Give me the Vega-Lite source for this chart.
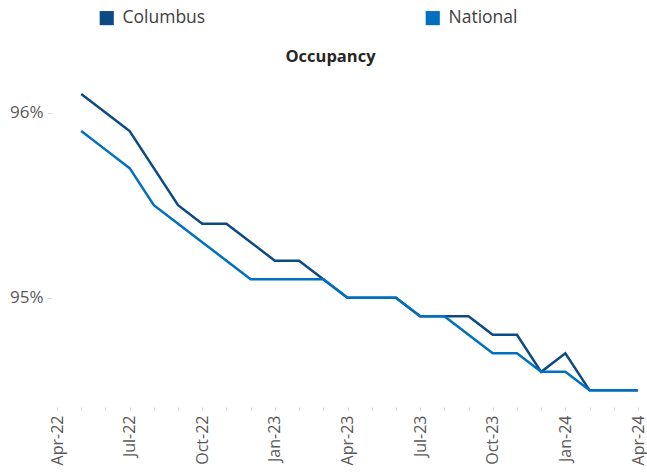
{
  "$schema": "https://vega.github.io/schema/vega-lite/v6.json",
  "width": 581,
  "height": 337,
  "autosize": {"type": "none"},
  "padding": {"left": 57, "top": 70, "right": 9, "bottom": 68},
  "background": "white",
  "title": {"text": "Occupancy", "fontSize": 16.5, "font": "Open Sans", "fontWeight": "bold", "color": "#262626", "dx": -17, "dy": 64, "offset": 8, "anchor": "middle"},
  "config": {"view": {"stroke": null}, "font": "Open Sans"},
  "data": {"values": [
    {"month": "May-22", "series": "Columbus", "occupancy": 96.1},
    {"month": "Jun-22", "series": "Columbus", "occupancy": 96.0},
    {"month": "Jul-22", "series": "Columbus", "occupancy": 95.9},
    {"month": "Aug-22", "series": "Columbus", "occupancy": 95.7},
    {"month": "Sep-22", "series": "Columbus", "occupancy": 95.5},
    {"month": "Oct-22", "series": "Columbus", "occupancy": 95.4},
    {"month": "Nov-22", "series": "Columbus", "occupancy": 95.4},
    {"month": "Dec-22", "series": "Columbus", "occupancy": 95.3},
    {"month": "Jan-23", "series": "Columbus", "occupancy": 95.2},
    {"month": "Feb-23", "series": "Columbus", "occupancy": 95.2},
    {"month": "Mar-23", "series": "Columbus", "occupancy": 95.1},
    {"month": "Apr-23", "series": "Columbus", "occupancy": 95.0},
    {"month": "May-23", "series": "Columbus", "occupancy": 95.0},
    {"month": "Jun-23", "series": "Columbus", "occupancy": 95.0},
    {"month": "Jul-23", "series": "Columbus", "occupancy": 94.9},
    {"month": "Aug-23", "series": "Columbus", "occupancy": 94.9},
    {"month": "Sep-23", "series": "Columbus", "occupancy": 94.9},
    {"month": "Oct-23", "series": "Columbus", "occupancy": 94.8},
    {"month": "Nov-23", "series": "Columbus", "occupancy": 94.8},
    {"month": "Dec-23", "series": "Columbus", "occupancy": 94.6},
    {"month": "Jan-24", "series": "Columbus", "occupancy": 94.7},
    {"month": "Feb-24", "series": "Columbus", "occupancy": 94.5},
    {"month": "Mar-24", "series": "Columbus", "occupancy": 94.5},
    {"month": "Apr-24", "series": "Columbus", "occupancy": 94.5},
    {"month": "May-22", "series": "National", "occupancy": 95.9},
    {"month": "Jun-22", "series": "National", "occupancy": 95.8},
    {"month": "Jul-22", "series": "National", "occupancy": 95.7},
    {"month": "Aug-22", "series": "National", "occupancy": 95.5},
    {"month": "Sep-22", "series": "National", "occupancy": 95.4},
    {"month": "Oct-22", "series": "National", "occupancy": 95.3},
    {"month": "Nov-22", "series": "National", "occupancy": 95.2},
    {"month": "Dec-22", "series": "National", "occupancy": 95.1},
    {"month": "Jan-23", "series": "National", "occupancy": 95.1},
    {"month": "Feb-23", "series": "National", "occupancy": 95.1},
    {"month": "Mar-23", "series": "National", "occupancy": 95.1},
    {"month": "Apr-23", "series": "National", "occupancy": 95.0},
    {"month": "May-23", "series": "National", "occupancy": 95.0},
    {"month": "Jun-23", "series": "National", "occupancy": 95.0},
    {"month": "Jul-23", "series": "National", "occupancy": 94.9},
    {"month": "Aug-23", "series": "National", "occupancy": 94.9},
    {"month": "Sep-23", "series": "National", "occupancy": 94.8},
    {"month": "Oct-23", "series": "National", "occupancy": 94.7},
    {"month": "Nov-23", "series": "National", "occupancy": 94.7},
    {"month": "Dec-23", "series": "National", "occupancy": 94.6},
    {"month": "Jan-24", "series": "National", "occupancy": 94.6},
    {"month": "Feb-24", "series": "National", "occupancy": 94.5},
    {"month": "Mar-24", "series": "National", "occupancy": 94.5},
    {"month": "Apr-24", "series": "National", "occupancy": 94.5}
  ]},
  "mark": {"type": "line", "strokeWidth": 2.5},
  "encoding": {
    "x": {
      "field": "month",
      "type": "ordinal",
      "sort": null,
      "scale": {"type": "point", "padding": 0, "domain": ["Apr-22","May-22","Jun-22","Jul-22","Aug-22","Sep-22","Oct-22","Nov-22","Dec-22","Jan-23","Feb-23","Mar-23","Apr-23","May-23","Jun-23","Jul-23","Aug-23","Sep-23","Oct-23","Nov-23","Dec-23","Jan-24","Feb-24","Mar-24","Apr-24"]},
      "axis": {
        "title": null,
        "grid": false,
        "domain": false,
        "tickColor": "#d9d9d9",
        "tickSize": 3,
        "labelAngle": 270,
        "labelAlign": "right",
        "labelBaseline": "middle",
        "labelPadding": 5,
        "labelFontSize": 16,
        "labelColor": "#595959",
        "labelOverlap": false,
        "labelExpr": "test(/^(Jan|Apr|Jul|Oct)/, datum.value) ? datum.value : ''",
        "encode": {"labels": {"update": {"dy": {"signal": "datum.value === 'Apr-22' ? 10 : 0"}}}}
      }
    },
    "y": {
      "field": "occupancy",
      "type": "quantitative",
      "scale": {"domain": [94.41, 96.23], "zero": false, "nice": false},
      "axis": {
        "title": null,
        "values": [95, 96],
        "grid": false,
        "domain": false,
        "tickColor": "#d9d9d9",
        "tickSize": 5,
        "offset": 5,
        "labelPadding": 4,
        "labelFontSize": 17,
        "labelColor": "#595959",
        "labelExpr": "datum.value + '%'"
      }
    },
    "color": {
      "field": "series",
      "type": "nominal",
      "scale": {"domain": ["Columbus", "National"], "range": ["#0c4a84", "#0070c0"]},
      "legend": {
        "title": null,
        "orient": "none",
        "legendX": 41,
        "legendY": -61,
        "direction": "horizontal",
        "symbolType": "square",
        "symbolSize": 200,
        "symbolStrokeWidth": 0,
        "labelFontSize": 17.5,
        "labelColor": "#404040",
        "columnPadding": 218,
        "labelOffset": 7,
        "encode": {"symbols": {"update": {"fill": {"scale": "color", "field": "value"}, "opacity": {"value": 1}, "fillOpacity": {"value": 1}}}}
      }
    }
  }
}
